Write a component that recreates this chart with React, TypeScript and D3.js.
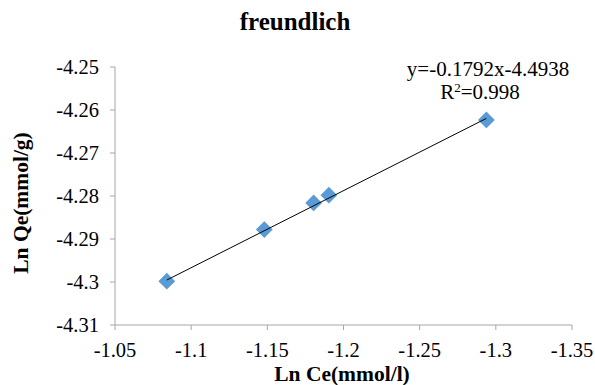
import React from "react";
import * as d3 from "d3";

const WIDTH = 595;
const HEIGHT = 385;
const MARGIN = { left: 115, right: 23, top: 67, bottom: 60 };

// data
const lnCe = [-1.084, -1.148, -1.1804, -1.1904, -1.2938];
const lnQe = [-4.2998, -4.2878, -4.2816, -4.2798, -4.2623];
const xTicks = [-1.05, -1.1, -1.15, -1.2, -1.25, -1.3, -1.35];
const yTicks = [-4.25, -4.26, -4.27, -4.28, -4.29, -4.3, -4.31];
const slope = -0.1792;
const intercept = -4.4938;

const FONT = "'Liberation Serif', 'Times New Roman', serif";
const AXIS_COLOR = "#a6a6a6";
// plain hyphen for the minus sign, like the original
const fmt = (v: number) => String(v);

export default function App() {
  const innerW = WIDTH - MARGIN.left - MARGIN.right;
  const innerH = HEIGHT - MARGIN.top - MARGIN.bottom;

  // x axis runs reversed: -1.05 on the left, -1.35 on the right
  const x = d3.scaleLinear().domain([-1.05, -1.35]).range([0, innerW]);
  const y = d3.scaleLinear().domain([-4.31, -4.25]).range([innerH, 0]);

  const xMin = d3.max(lnCe)!;
  const xMax = d3.min(lnCe)!;
  const trend = d3.line<number>()
    .x((d) => x(d))
    .y((d) => y(slope * d + intercept));

  const diamond = d3.symbol().type(d3.symbolDiamond2).size(180)();

  return (
    <svg
      width={WIDTH}
      height={HEIGHT}
      style={{ position: "absolute", left: 0, top: 0, background: "#fff" }}
    >
      <text
        x={295}
        y={30}
        textAnchor="middle"
        fontFamily={FONT}
        fontWeight="bold"
        fontSize={25}
      >
        freundlich
      </text>

      <g transform={`translate(${MARGIN.left},${MARGIN.top})`}>
        {/* y axis */}
        <line x1={0} x2={0} y1={0} y2={innerH} stroke={AXIS_COLOR} />
        {yTicks.map((t) => (
          <g key={t} transform={`translate(0,${y(t)})`}>
            <line x1={-5} x2={0} stroke={AXIS_COLOR} />
            <text
              x={-16}
              dy="0.35em"
              textAnchor="end"
              fontFamily={FONT}
              fontSize={20.5}
            >
              {fmt(t)}
            </text>
          </g>
        ))}

        {/* x axis */}
        <line x1={0} x2={innerW} y1={innerH} y2={innerH} stroke={AXIS_COLOR} />
        {xTicks.map((t) => (
          <g key={t} transform={`translate(${x(t)},${innerH})`}>
            <line y1={0} y2={5} stroke={AXIS_COLOR} />
            <text
              y={32}
              textAnchor="middle"
              fontFamily={FONT}
              fontSize={20.5}
            >
              {fmt(t)}
            </text>
          </g>
        ))}

        {/* points */}
        {lnCe.map((c, i) => (
          <path
            key={i}
            d={diamond!}
            transform={`translate(${x(c)},${y(lnQe[i])})`}
            fill="#5b9bd5"
          />
        ))}

        {/* linear trendline over the data range */}
        <path d={trend([xMin, xMax])!} stroke="#000" strokeWidth={1} fill="none" />
      </g>

      <text x={488} y={76} textAnchor="middle" fontFamily={FONT} fontSize={21}>
        y=-0.1792x-4.4938
      </text>
      <text x={480} y={99} textAnchor="middle" fontFamily={FONT} fontSize={21}>
        R<tspan dy={-7} fontSize={13}>2</tspan>
        <tspan dy={7}>=0.998</tspan>
      </text>

      <text
        transform={`translate(28,203) rotate(-90)`}
        textAnchor="middle"
        fontFamily={FONT}
        fontWeight="bold"
        fontSize={21.5}
      >
        Ln Qe(mmol/g)
      </text>
      <text
        x={342}
        y={381}
        textAnchor="middle"
        fontFamily={FONT}
        fontWeight="bold"
        fontSize={21.5}
      >
        Ln Ce(mmol/l)
      </text>
    </svg>
  );
}
